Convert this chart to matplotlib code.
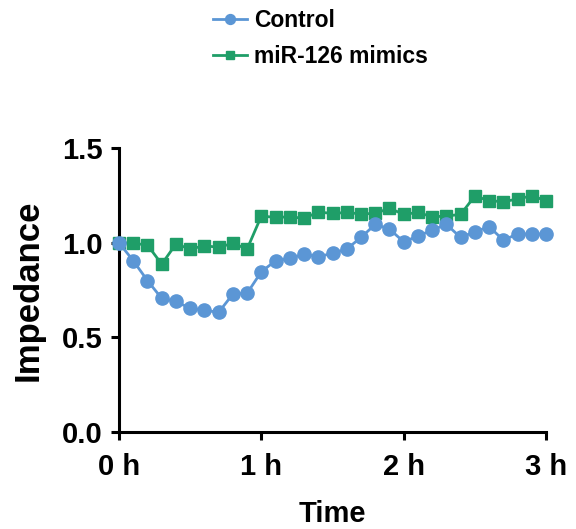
import matplotlib
matplotlib.use('Agg')
import matplotlib.pyplot as plt

plt.rcParams['font.family'] = ['Liberation Sans', 'DejaVu Sans']
plt.rcParams['font.weight'] = 'bold'

time_h = [i / 10 for i in range(31)]
control = [1.00, 0.905, 0.80, 0.706, 0.69, 0.653, 0.644, 0.632, 0.729, 0.733,
           0.847, 0.905, 0.917, 0.94, 0.926, 0.944, 0.967, 1.028, 1.097, 1.072,
           1.005, 1.035, 1.067, 1.097, 1.028, 1.058, 1.085, 1.014, 1.046, 1.046,
           1.046]
mimics = [1.00, 0.997, 0.988, 0.887, 0.993, 0.967, 0.984, 0.976, 0.997, 0.967,
          1.141, 1.134, 1.137, 1.129, 1.162, 1.155, 1.16, 1.152, 1.155, 1.182,
          1.15, 1.16, 1.137, 1.141, 1.15, 1.247, 1.222, 1.217, 1.231, 1.248,
          1.222]
xticks = [0, 1, 2, 3]
xticklabels = ['0 h', '1 h', '2 h', '3 h']
yticks = [0.0, 0.5, 1.0, 1.5]

blue = '#5B96D5'
green = '#1F9E68'

fig = plt.figure(figsize=(5.76, 5.29), dpi=100)
ax = fig.add_axes([0.2066, 0.1834, 0.7414, 0.5366])

ax.plot(time_h, mimics, color=green, marker='s', markersize=8.5, linewidth=2,
        label='miR-126 mimics', clip_on=False, zorder=3)
ax.plot(time_h, control, color=blue, marker='o', markersize=9.5, linewidth=2,
        label='Control', clip_on=False, zorder=4)

ax.set_xlim(0, 3)
ax.set_ylim(0, 1.5)
ax.set_xticks(xticks)
ax.set_xticklabels(xticklabels)
ax.set_yticks(yticks)
ax.set_yticklabels([f'{v:.1f}' for v in yticks])

for side in ['top', 'right']:
    ax.spines[side].set_visible(False)
for side in ['left', 'bottom']:
    ax.spines[side].set_linewidth(2.2)
ax.tick_params(width=2.2, length=6, labelsize=21)
ax.tick_params(axis='x', pad=9)
ax.tick_params(axis='y', pad=6)
for lbl in ax.get_xticklabels() + ax.get_yticklabels():
    lbl.set_fontweight('bold')

ax.set_xlabel('Time', fontsize=21, fontweight='bold', labelpad=14)
ax.set_ylabel('Impedance', fontsize=25, fontweight='bold', labelpad=12)

handles, labels = ax.get_legend_handles_labels()
fig.legend(handles[::-1], labels[::-1], loc='center left',
           bbox_to_anchor=(0.37, 0.927), frameon=False,
           borderpad=0, borderaxespad=0,
           handlelength=1.5, handletextpad=0.3, labelspacing=0.55,
           prop={'weight': 'bold', 'size': 16.5}, markerscale=0.75)

fig.savefig('out.png', dpi=100)
